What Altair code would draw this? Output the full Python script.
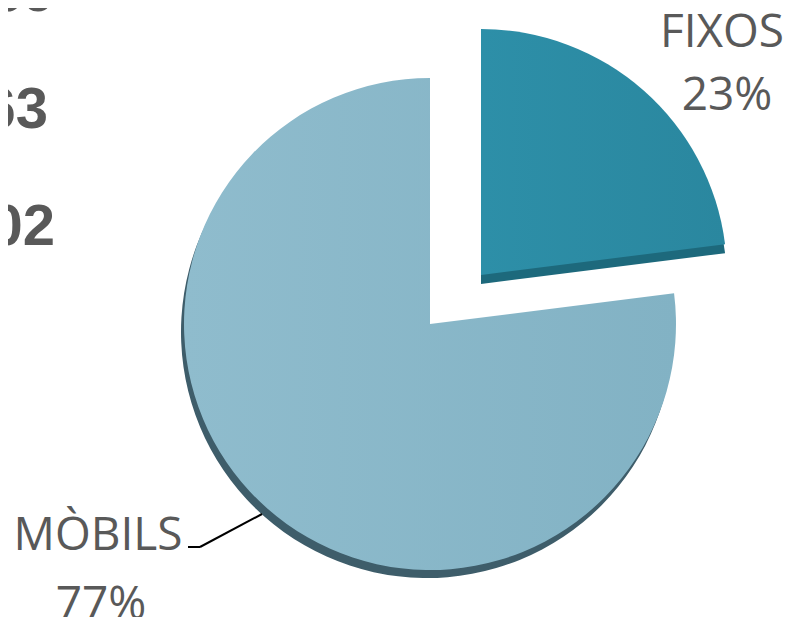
import math
import altair as alt
import pandas as pd

# ---- data ----
categories = ["FIXOS", "MÒBILS"]
shares = [23, 77]
side_numbers = ["69", "63", "02"]  # partially visible figures at the left edge

df = pd.DataFrame({"cat": categories, "share": shares})
df["end"] = df["share"].cumsum()
df["start"] = df["end"] - df["share"]
df["pct"] = df["share"].astype(str) + "%"

W, H = 779, 609
R = 246
theta_scale = alt.Scale(domain=[0, 100], range=[0, 2 * math.pi])

base = alt.Chart(df)


def slice_layer(cat, cx, cy, fill):
    return base.transform_filter(alt.datum.cat == cat).mark_arc(
        radius=R, fill=fill, stroke=None
    ).encode(
        theta=alt.Theta("start:Q", scale=theta_scale),
        theta2=alt.Theta2("end:Q"),
        x=alt.value(cx),
        y=alt.value(cy),
    )


grad_mob = alt.LinearGradient(
    gradient="linear",
    stops=[alt.GradientStop(color="#8fbccd", offset=0),
           alt.GradientStop(color="#82b2c4", offset=1)],
    x1=0, x2=1, y1=0, y2=0,
)
grad_fix = alt.LinearGradient(
    gradient="linear",
    stops=[alt.GradientStop(color="#2d8fa8", offset=0),
           alt.GradientStop(color="#2a879f", offset=1)],
    x1=0, x2=1, y1=0, y2=0,
)

mob_cx, mob_cy = 422, 316
fix_cx, fix_cy = 473, 267

shadow_mob = slice_layer("MÒBILS", mob_cx - 3, mob_cy + 8, "#3e5d6a")
shadow_fix = slice_layer("FIXOS", fix_cx, fix_cy + 9, "#1d697c")
top_mob = slice_layer("MÒBILS", mob_cx, mob_cy, grad_mob)
top_fix = slice_layer("FIXOS", fix_cx, fix_cy, grad_fix)

label_font = "Open Sans"
label_color = "#595959"


def label(cat, field, x, y, align="center"):
    return base.transform_filter(alt.datum.cat == cat).mark_text(
        font=label_font, fontSize=46, color=label_color, align=align,
        baseline="alphabetic",
    ).encode(text=f"{field}:N", x=alt.value(x), y=alt.value(y))


fix_name = label("FIXOS", "cat", 714, 39)
fix_pct = label("FIXOS", "pct", 719, 102)
mob_name = label("MÒBILS", "cat", 90, 542)
mob_pct = label("MÒBILS", "pct", 93, 611)

leader1 = base.transform_filter(alt.datum.cat == "MÒBILS").mark_rule(
    color="black", strokeWidth=2
).encode(x=alt.value(180), x2=alt.value(192), y=alt.value(539), y2=alt.value(539))
leader2 = base.transform_filter(alt.datum.cat == "MÒBILS").mark_rule(
    color="black", strokeWidth=2
).encode(x=alt.value(192), x2=alt.value(254), y=alt.value(539), y2=alt.value(506))

side_df = pd.DataFrame({"t": side_numbers, "i": [0, 1, 2]})
side_pos_x = [47, 40, 47]
side_pos_y = [3, 120, 237]
side_layers = []
for i, t in enumerate(side_numbers):
    side_layers.append(
        alt.Chart(side_df).transform_filter(alt.datum.i == i).mark_text(
            font="Liberation Sans", fontWeight="bold", fontSize=58,
            color=label_color, align="right", baseline="alphabetic",
        ).encode(text="t:N", x=alt.value(side_pos_x[i]), y=alt.value(side_pos_y[i]))
    )

chart = alt.layer(
    shadow_mob, shadow_fix, top_mob, top_fix,
    leader1, leader2,
    fix_name, fix_pct, mob_name, mob_pct,
    *side_layers,
).properties(
    width=W, height=H, padding=0,
    autosize=alt.AutoSizeParams(type="none"),
).configure_view(stroke=None)

chart.save("out.html", embed_options={"renderer": "svg", "actions": False})
